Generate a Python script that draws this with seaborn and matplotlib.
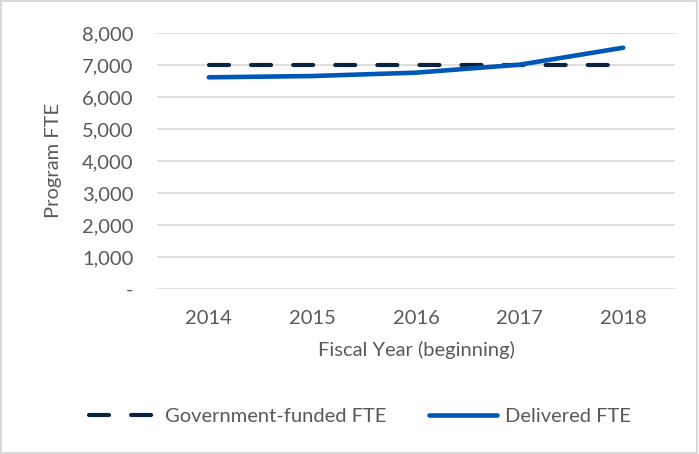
import pandas as pd
import matplotlib.pyplot as plt
import seaborn as sns
from matplotlib.ticker import FuncFormatter
from matplotlib.patches import Rectangle

years = ['2014', '2015', '2016', '2017', '2018']
government_funded = [7000, 7000, 7000, 7000, 7000]
delivered = [6615, 6655, 6760, 7010, 7540]

sns.set_theme(style='white')
plt.rcParams['font.family'] = ['Lato', 'DejaVu Sans']
text_color = '#595959'
fs = 14.5

df = pd.DataFrame({
    'year': years * 2,
    'fte': government_funded + delivered,
    'series': ['Government-funded FTE'] * 5 + ['Delivered FTE'] * 5,
})

fig = plt.figure(figsize=(6.99, 4.54), dpi=100)
ax = fig.add_axes([157 / 699, 1 - 289 / 454, (675 - 157) / 699, (289 - 33) / 454])

sns.lineplot(data=df[df['series'] == 'Government-funded FTE'], x='year', y='fte',
             color='#0C2340', linewidth=3.0, ax=ax, label='Government-funded FTE',
             sort=False)
sns.lineplot(data=df[df['series'] == 'Delivered FTE'], x='year', y='fte',
             color='#0057B8', linewidth=3.3, ax=ax, label='Delivered FTE', sort=False)
gov_line = ax.lines[0]
gov_line.set_dashes((4.8, 5.3))
gov_line.set_dash_capstyle('round')
ax.lines[1].set_solid_capstyle('round')

ax.set_ylim(0, 8000)
ax.set_xlim(-0.5, 4.5)
ax.set_yticks(range(0, 8001, 1000))
ax.yaxis.set_major_formatter(FuncFormatter(lambda v, p: '-' if v == 0 else f'{int(v):,}'))
ax.grid(axis='y', color='#D9D9D9', linewidth=1.2)
ax.set_axisbelow(True)
for s in ax.spines.values():
    s.set_visible(False)
ax.tick_params(axis='both', length=0, labelsize=fs, colors=text_color)
ax.tick_params(axis='y', pad=17)
ax.tick_params(axis='x', pad=15)
ax.set_xlabel('Fiscal Year (beginning)', fontsize=fs, color=text_color, labelpad=10)
ax.set_ylabel('Program FTE', fontsize=fs, color=text_color, labelpad=14)

ax.get_legend().remove()
handles = ax.lines[:2]
fig.legend(handles, ['Government-funded FTE', 'Delivered FTE'], loc='center',
           bbox_to_anchor=(360 / 699, 1 - 416 / 454), ncol=2, frameon=False,
           fontsize=fs, labelcolor=text_color, handlelength=3.4, handletextpad=0.4,
           columnspacing=2.1)

fig.patches.append(Rectangle((0.002, 0.003), 0.995, 0.994, transform=fig.transFigure,
                             fill=False, edgecolor='#D9D9D9', linewidth=1.5))
fig.savefig('out.png', dpi=100)
